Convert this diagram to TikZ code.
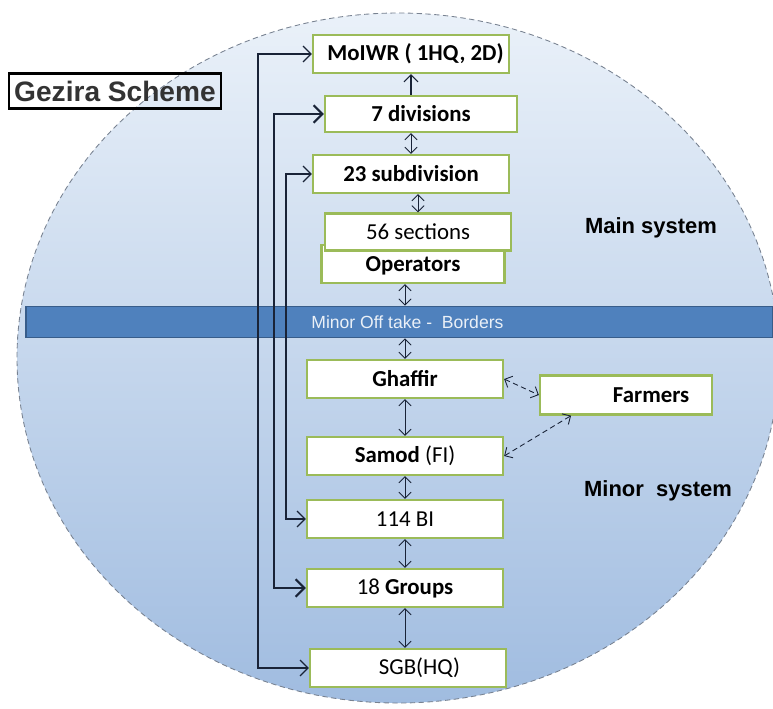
\documentclass[tikz,border=0pt]{standalone}
\usepackage{fontspec}
\setmainfont{Carlito}
\newfontfamily\arialfont{Liberation Sans}
\usepackage{tikz}
\usetikzlibrary{arrows.meta}

\definecolor{boxgreen}{RGB}{155,187,89}
\definecolor{bandblue}{RGB}{79,129,189}
\definecolor{banddark}{RGB}{56,93,138}
\definecolor{skytop}{RGB}{234,241,249}
\definecolor{skybot}{RGB}{160,188,224}
\definecolor{rimgrey}{RGB}{120,130,145}
\definecolor{linkdark}{RGB}{25,35,55}

\begin{document}
\begin{tikzpicture}[x=0.02cm,y=-0.02cm,
  box/.style={draw=boxgreen,line width=1.3pt,fill=white,rectangle,
    minimum width=3.92cm,minimum height=0.76cm,inner sep=1pt,
    font=\fontsize{13}{15}\selectfont},
  tag/.style={font=\arialfont\bfseries\fontsize{12.5}{15}\selectfont},
  vlink/.style={linkdark,line width=0.5pt,{Straight Barb[length=3.5pt]}-{Straight Barb[length=3.5pt]}},
  side/.style={linkdark,line width=0.7pt,-{Straight Barb[length=4.5pt]}},
  >={Straight Barb[length=4pt]}]
\useasboundingbox (0,0) rectangle (773,708);

% background
\shade[top color=skytop,bottom color=skybot,draw=rimgrey,densely dashed,line width=0.5pt]
  (398,358) ellipse [x radius=381,y radius=345];

\node [draw=banddark,line width=1pt,fill=bandblue,minimum width=14.94cm,minimum height=0.62cm,
  font=\arialfont\fontsize{10}{12}\selectfont,text=white!88!bandblue] (band) at (399.5,322) {\hspace*{0.9em}Minor Off take -\ \ Borders};

\node [draw=black,line width=1.4pt,fill=white,fill opacity=0,text opacity=1,minimum width=4.24cm,minimum height=0.7cm,
  inner sep=1pt,font=\arialfont\bfseries\fontsize{16}{19}\selectfont,text=black!80] (gs) at (115,91) {Gezira Scheme};

\node [tag] (mainsys) at (651,228) {Main system};
\node [tag] (minorsys) at (658,491) {Minor\ \ system};

% main system
\node [box,font=\fontsize{13}{15}\selectfont\bfseries] (mo) at (411,54) {\hspace*{0.4em}MoIWR ( 1HQ, 2D)};
\node [box,minimum width=3.84cm,minimum height=0.72cm,font=\fontsize{13}{15}\selectfont\bfseries] (div) at (421,114) {7 divisions};
\node [box,font=\fontsize{13}{15}\selectfont\bfseries] (sub) at (411,174) {23 subdivision};
\node [box,minimum width=3.66cm,font=\fontsize{13}{15}\selectfont\bfseries,text depth=0pt] (ops) at (413,264) {Operators};
\node [box,minimum width=3.72cm,minimum height=0.74cm] (sec) at (418,232) {56 sections};

% minor system
\node [box,font=\fontsize{13}{15}\selectfont\bfseries] (gh) at (405,379) {Ghaffir};
\node [box,minimum width=3.44cm,minimum height=0.78cm,font=\fontsize{13}{15}\selectfont\bfseries] (fa) at (626,395) {\hspace*{2.2em}Farmers};
\node [box] (sam) at (405,456) {\textbf{Samod} (FI)};
\node [box] (bi) at (405,519) {114 BI};
\node [box] (gr) at (405,588) {18 \textbf{Groups}};
\node [box] (sgb) at (408,668) {\hspace*{1em}SGB(HQ)};

% links along the column
\draw [linkdark,line width=0.6pt,->] (div.north -| mo.south) -- (mo.south);
\draw [vlink] (sub.north) -- (sub.north |- div.south);
\draw [vlink] (sec.north) -- (sec.north |- sub.south);
\draw [vlink] (ops.south -| gh) -- (band.north -| gh);
\draw [vlink] (band.south -| gh) -- (gh.north);
\draw [vlink] (gh.south) -- (sam.north);
\draw [vlink] (sam.south) -- (bi.north);
\draw [vlink] (bi.south) -- (gr.north);
\draw [vlink] (gr.south) -- (sgb.north -| gr.south);

% farmers
\draw [vlink,densely dashed] (gh.east) -- (fa.west);
\draw [vlink,densely dashed] (sam.east) -- ([xshift=-1.1cm]fa.south);

% left side lines
\coordinate (l1) at (258,57);
\coordinate (l2) at (274,114);
\coordinate (l3) at (286,174);
\draw [side,{Straight Barb[length=4.5pt]}-{Straight Barb[length=4.5pt]}] (mo.west) -- (mo.west -| l1) |- (sgb.west);
\draw [side,line width=1.2pt,{Straight Barb[length=5pt]}-{Straight Barb[length=5pt]}] (div.west) -- (div.west -| l2) |- (gr.west);
\draw [side,{Straight Barb[length=4.5pt]}-{Straight Barb[length=4.5pt]}] (sub.west) -- (sub.west -| l3) |- (bi.west);

\end{tikzpicture}
\end{document}
